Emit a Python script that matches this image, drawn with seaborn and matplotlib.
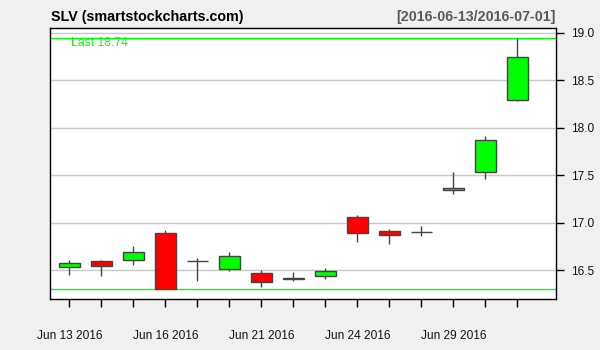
import matplotlib
matplotlib.use("Agg")
import matplotlib.pyplot as plt
import seaborn as sns
import pandas as pd
import numpy as np

# ---- data ----
dates = ["2016-06-13", "2016-06-14", "2016-06-15", "2016-06-16", "2016-06-17",
         "2016-06-20", "2016-06-21", "2016-06-22", "2016-06-23", "2016-06-24",
         "2016-06-27", "2016-06-28", "2016-06-29", "2016-06-30", "2016-07-01"]
opens  = [16.53, 16.60, 16.61, 16.89, 16.60, 16.51, 16.47, 16.415, 16.44, 17.06, 16.91, 16.90, 17.34, 17.53, 18.29]
closes = [16.58, 16.54, 16.69, 16.30, 16.60, 16.65, 16.38, 16.405, 16.49, 16.89, 16.87, 16.90, 17.37, 17.87, 18.74]
highs  = [16.61, 16.61, 16.76, 16.92, 16.63, 16.69, 16.50, 16.48, 16.52, 17.08, 16.93, 16.97, 17.53, 17.91, 18.94]
lows   = [16.45, 16.44, 16.56, 16.30, 16.39, 16.49, 16.32, 16.39, 16.41, 16.80, 16.78, 16.86, 17.30, 17.46, 18.28]
tick_labels = {0: "Jun 13 2016", 3: "Jun 16 2016", 6: "Jun 21 2016", 9: "Jun 24 2016", 12: "Jun 29 2016"}
y_ticks = [16.5, 17.0, 17.5, 18.0, 18.5, 19.0]

df = pd.DataFrame({"date": pd.to_datetime(dates), "open": opens, "close": closes,
                   "high": highs, "low": lows})
df["idx"] = np.arange(len(df))
df["up"] = df["close"] >= df["open"]

sns.set_theme(style="white")
plt.rcParams["font.family"] = ["Liberation Sans", "DejaVu Sans"]

fig = plt.figure(figsize=(6, 3.5), dpi=100, facecolor="#F0F0F0")
ax = fig.add_axes([50.3 / 600, 51 / 350, 506 / 600, 270.7 / 350])
ax.set_facecolor("white")

# grid
for yv in y_ticks:
    ax.axhline(yv, color="#C8C8C8", lw=1, zorder=0)

# min / max lines
ax.axhline(min(lows), color="#00FF00", lw=1, zorder=1)
ax.axhline(max(highs), color="#00FF00", lw=1, zorder=1)

edge = "#444444"
# wicks
ax.vlines(df["idx"], df["low"], df["high"], color=edge, lw=1, zorder=2)
# bodies
bottoms = np.minimum(df["open"], df["close"])
heights = np.abs(df["close"] - df["open"])
colors = ["#00FF00" if u else "#FF0000" for u in df["up"]]
ax.bar(df["idx"], heights, bottom=bottoms, width=0.66, color=colors,
       edgecolor=edge, linewidth=1, zorder=3)

ax.set_xlim(-0.594, 15.22)
ax.set_ylim(16.198, 19.046)

ax.set_xticks(df["idx"])
ax.set_xticklabels([tick_labels.get(i, "") for i in df["idx"]])
ax.set_yticks(y_ticks)
ax.set_yticklabels([f"{v:.1f}" for v in y_ticks])
ax.yaxis.tick_right()
ax.tick_params(axis="x", direction="out", length=5.5, width=1, color="black",
               pad=16.5, labelsize=8.6, labelcolor="#111111", bottom=True)
ax.tick_params(axis="y", direction="out", length=6, width=1, color="black",
               pad=4.5, labelsize=8.6, labelcolor="#111111", right=True, left=False)
for s in ax.spines.values():
    s.set_color("black")
    s.set_linewidth(1)
    s.set_visible(True)
ax.set_xlabel("")
ax.set_ylabel("")

ax.text(0.041, 0.946, f"Last {closes[-1]:.2f}", transform=ax.transAxes,
        color="#00FF00", fontsize=8.8, va="center", ha="left")

fig.text(51 / 600, 1 - 17 / 350, "SLV (smartstockcharts.com)", fontsize=10.3,
         fontweight="bold", color="black", va="center", ha="left")
fig.text(556 / 600, 1 - 17 / 350, "[2016-06-13/2016-07-01]", fontsize=10.3,
         fontweight="bold", color="#5A5A5A", va="center", ha="right")

fig.savefig("out.png", dpi=100, facecolor="#F0F0F0")
